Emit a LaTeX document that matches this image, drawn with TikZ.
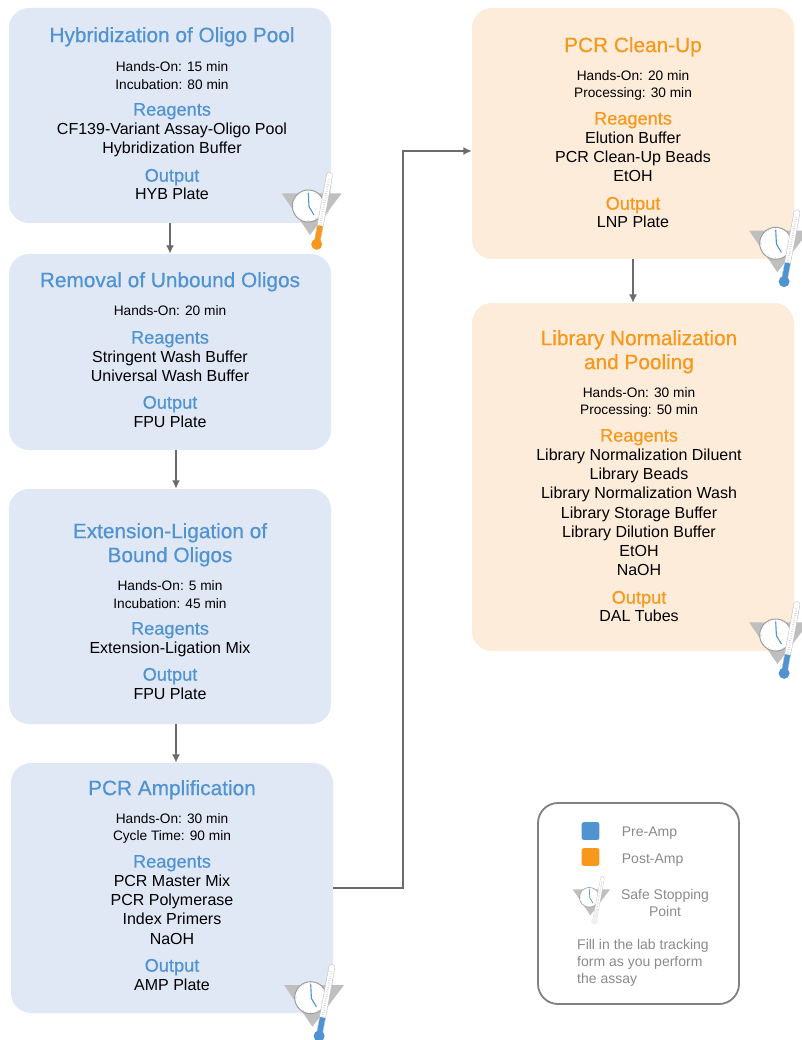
\documentclass[tikz,border=0pt]{standalone}
\usepackage{fontspec}
\setmainfont{Liberation Sans}
\newfontfamily\headfont[FakeBold=0.5]{Liberation Sans}
\usetikzlibrary{arrows.meta}
\definecolor{preamp}{HTML}{4F93D1}
\definecolor{postamp}{HTML}{F7981D}
\definecolor{prefill}{HTML}{E0E7F5}
\definecolor{postfill}{HTML}{FDECD9}
\definecolor{legendgray}{HTML}{8A8A8A}
\tikzset{
  stepbox/.style={rectangle, rounded corners=20pt, inner sep=0pt, draw=none},
  bluebox/.style={stepbox, fill=prefill},
  orangebox/.style={stepbox, fill=postfill},
  small/.style={anchor=mid, yshift=-2.7pt, font=\fontsize{13.7}{15}\selectfont},
  item/.style={anchor=mid, yshift=-3.2pt, font=\fontsize{16}{18}\selectfont},
  bt/.style={anchor=mid, yshift=-4.5pt, text=preamp, font=\headfont\fontsize{20.8}{24}\selectfont},
  bh/.style={anchor=mid, yshift=-4pt, text=preamp, font=\headfont\fontsize{18.2}{20}\selectfont},
  ot/.style={anchor=mid, yshift=-4.5pt, text=postamp, font=\headfont\fontsize{20.8}{24}\selectfont},
  oh/.style={anchor=mid, yshift=-4pt, text=postamp, font=\headfont\fontsize{18.2}{20}\selectfont},
  legend/.style={anchor=mid, yshift=-3pt, text=legendgray, font=\fontsize{14}{15}\selectfont},
  flow/.style={draw=black!58, line width=1.4pt, -{Latex[length=8.5pt,width=8pt]}},
}
% #1 position, #2 liquid colour, #3 size
\newcommand{\safestop}[3]{
  \begin{scope}[shift={(#1)}, scale=#3]
    \fill[black!25] (-26.6,-12.7) -- (33.4,-12.7) -- (1.7,29) -- cycle;
    \draw[fill=white, draw=black!38, line width=#3*1pt] (0,0) circle (16);
    \foreach \a in {0,30,...,330}
      \draw[black!15, line width=#3*.6pt] (\a:14) -- (\a:15.5);
    \draw[preamp, line width=#3*1.1pt] (0,-13.3) -- (.7,.7) -- (5.7,9);
    \draw[black!22, line width=#3*6.6pt, line cap=round] (8.4,38.3) -- (21.2,-30.5);
    \draw[white, line width=#3*5.4pt, line cap=round] (8.4,38.3) -- (21.2,-30.5);
    \draw[black!18, line width=#3*2pt, dash pattern=on #3*.7pt off #3*1.6pt] (11,24) -- (20.6,-27);
    \draw[#2, line width=#3*5.4pt] (8.4,38.3) -- (11.9,19.7);
    \fill[#2] (8.4,38.3) circle (5.5);
  \end{scope}
}
\begin{document}
\begin{tikzpicture}[x=1pt, y=-1pt]
  \useasboundingbox (0,0) rectangle (801,1040);
  % left column
  \node[bluebox, minimum width=322pt, minimum height=215pt] (hyb) at (170,115.5) {};
  \node[bluebox, minimum width=322pt, minimum height=196pt] (rem) at (170,352) {};
  \node[bluebox, minimum width=322pt, minimum height=235pt] (ext) at (170,606.5) {};
  \node[bluebox, minimum width=322pt, minimum height=250pt] (amp) at (172,888) {};
  % right column
  \node[orangebox, minimum width=322pt, minimum height=251pt] (cln) at (633,133.5) {};
  \node[orangebox, minimum width=322pt, minimum height=348pt] (nrm) at (633,477) {};

  \foreach \y/\st/\txt [count=\n] in {35/bt/Hybridization of Oligo Pool, 66/small/Hands-On: 15 min,
      84/small/Incubation: 80 min, 109/bh/Reagents, 129/item/CF139-Variant Assay-Oligo Pool,
      148/item/Hybridization Buffer, 175/bh/Output, 194/item/HYB Plate}
    \node[\st] (hyb\n) at (172,\y) {\txt};
  \foreach \y/\st/\txt [count=\n] in {280/bt/Removal of Unbound Oligos, 310/small/Hands-On: 20 min,
      337/bh/Reagents, 357/item/Stringent Wash Buffer, 376/item/Universal Wash Buffer,
      402/bh/Output, 422/item/FPU Plate}
    \node[\st] (rem\n) at (170,\y) {\txt};
  \foreach \y/\st/\txt [count=\n] in {531/bt/Extension-Ligation of, 555/bt/Bound Oligos,
      585/small/Hands-On: 5 min, 603/small/Incubation: 45 min, 628/bh/Reagents,
      648/item/Extension-Ligation Mix, 674/bh/Output, 694/item/FPU Plate}
    \node[\st] (ext\n) at (170,\y) {\txt};
  \foreach \y/\st/\txt [count=\n] in {788/bt/PCR Amplification, 818/small/Hands-On: 30 min,
      835/small/Cycle Time: 90 min, 861/bh/Reagents, 881/item/PCR Master Mix,
      900/item/PCR Polymerase, 919/item/Index Primers, 939/item/NaOH, 965/bh/Output,
      985/item/AMP Plate}
    \node[\st] (amp\n) at (172,\y) {\txt};
  \foreach \y/\st/\txt [count=\n] in {45/ot/PCR Clean-Up, 75/small/Hands-On: 20 min,
      92/small/Processing: 30 min, 118/oh/Reagents, 138/item/Elution Buffer,
      157/item/PCR Clean-Up Beads, 176/item/EtOH, 203/oh/Output, 222/item/LNP Plate}
    \node[\st] (cln\n) at (633,\y) {\txt};
  \foreach \y/\st/\txt [count=\n] in {338/ot/Library Normalization, 362/ot/and Pooling,
      392/small/Hands-On: 30 min, 409/small/Processing: 50 min, 435/oh/Reagents,
      455/item/Library Normalization Diluent, 474/item/Library Beads,
      493/item/Library Normalization Wash, 513/item/Library Storage Buffer,
      532/item/Library Dilution Buffer, 551/item/EtOH, 570/item/NaOH, 597/oh/Output,
      616/item/DAL Tubes}
    \node[\st] (nrm\n) at (639,\y) {\txt};

  % arrows
  \coordinate (bend) at (403,151);
  \draw[flow] (hyb.south) -- (rem.north);
  \draw[flow] ([xshift=6pt]rem.south) -- ([xshift=6pt]ext.north);
  \draw[flow] ([xshift=6pt]ext.south) -- ([xshift=4pt]amp.north);
  \draw[flow] (amp.east) -| (bend) -- (bend -| cln.west);
  \draw[flow] (cln.south) -- (nrm.north);

  % safe stopping points
  \safestop{308.3,206}{postamp}{1}
  \safestop{310.7,997.7}{preamp}{1}
  \safestop{775.7,243.3}{preamp}{1}
  \safestop{775.7,635}{preamp}{1}

  % legend
  \node[draw=black!50, line width=1.8pt, rounded corners=20pt, minimum width=201pt, minimum height=201pt] (key) at (638.5,903.5) {};
  \node[fill=preamp, rounded corners=2pt, minimum size=17.6pt, inner sep=0pt] (pre) at (590.5,831) {};
  \node[fill=postamp, rounded corners=2pt, minimum size=17.6pt, inner sep=0pt] (post) at (590.5,857) {};
  \node[legend, anchor=mid west, inner sep=0pt] (pretxt) at (621.7,831) {Pre-Amp};
  \node[legend, anchor=mid west, inner sep=0pt] (posttxt) at (621.7,858) {Post-Amp};
  \safestop{589.3,897.3}{black!6}{.62}
  \node[legend] (safe1) at (665,894) {Safe Stopping};
  \node[legend] (safe2) at (665,911) {Point};
  \node[legend, anchor=mid west, inner sep=0pt] (fill1) at (577,944) {Fill in the lab tracking};
  \node[legend, anchor=mid west, inner sep=0pt] (fill2) at (577,961) {form as you perform};
  \node[legend, anchor=mid west, inner sep=0pt] (fill3) at (577,978) {the assay};
\end{tikzpicture}
\end{document}
